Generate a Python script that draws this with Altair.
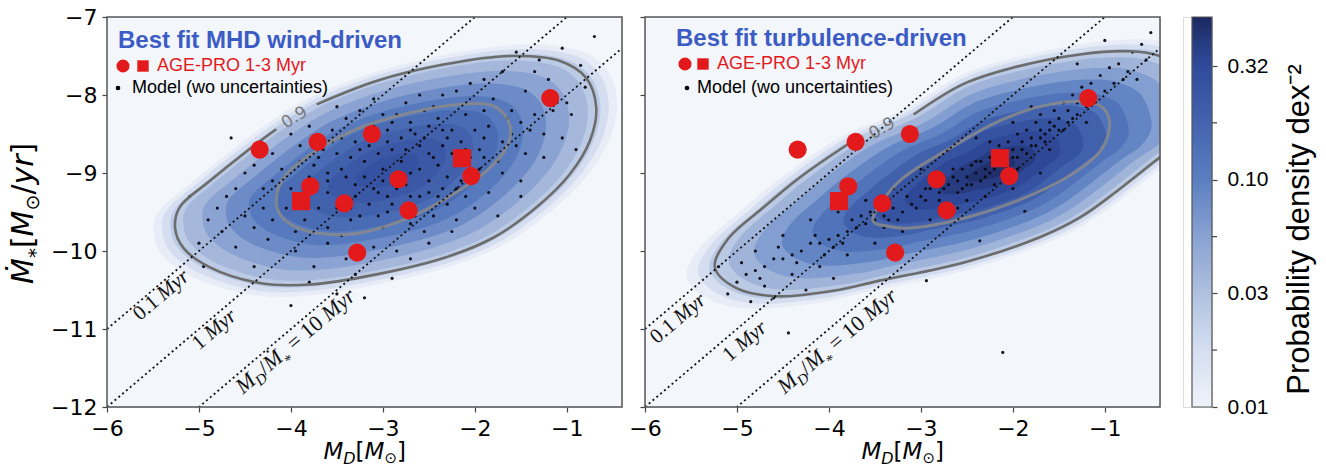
import math
import altair as alt
import pandas as pd

# ---------------- data ----------------
X_DOMAIN = [-6.0, -0.4]
Y_DOMAIN = [-12.0, -7.0]
PW, PH = 515, 390

# AGE-PRO 1-3 Myr observations (log M_D, log Mdot)
obs_circle_md = [-4.34, -3.71, -3.12, -1.18, -3.79, -3.42, -2.83, -2.72, -2.04, -3.28]
obs_circle_mdot = [-8.70, -8.60, -8.50, -8.04, -9.17, -9.39, -9.08, -9.48, -9.04, -10.02]
obs_square_md = [-3.89, -2.14]
obs_square_mdot = [-9.36, -8.81]

# depletion-time reference lines, log10(t / yr)
tdep_log_yr = [5, 6, 7]

# model points (wo uncertainties), MHD wind-driven
mhd_model = [
    (-1.55, -7.45), (-1.30, -7.55), (-1.05, -7.40), (-0.85, -7.62), (-1.70, -7.70), (-1.20, -7.80), (-2.05, -7.85), (-0.70, -7.25),
    (-2.6, -8.0), (-2.2, -7.95), (-1.8, -8.05), (-1.45, -7.95), (-1.0, -8.1), (-3.1, -8.05), (-1.6, -8.2),
    (-3.4, -8.3), (-3.0, -8.25), (-2.7, -8.35), (-2.4, -8.3), (-2.1, -8.25), (-1.85, -8.4), (-1.5, -8.35), (-1.25, -8.5), (-3.8, -8.4), (-2.95, -8.45), (-2.25, -8.45),
    (-4.2, -8.75), (-3.9, -8.65), (-3.55, -8.6), (-3.25, -8.7), (-2.95, -8.6), (-2.75, -8.7), (-2.55, -8.55), (-2.35, -8.65), (-2.15, -8.6), (-1.95, -8.7), (-1.7, -8.6), (-1.45, -8.75), (-2.65, -8.5), (-3.1, -8.55), (-2.45, -8.8),
    (-4.5, -9.0), (-4.1, -8.95), (-3.75, -8.9), (-3.45, -8.95), (-3.2, -8.85), (-3.0, -8.95), (-2.8, -8.85), (-2.6, -8.95), (-2.4, -8.9), (-2.2, -8.85), (-1.95, -8.95), (-1.7, -9.0), (-3.35, -8.8), (-2.9, -9.05), (-2.5, -9.1), (-3.6, -9.1),
    (-4.7, -9.3), (-4.3, -9.2), (-4.0, -9.2), (-3.6, -9.25), (-3.3, -9.15), (-3.05, -9.25), (-2.85, -9.2), (-2.6, -9.3), (-2.35, -9.2), (-2.1, -9.3), (-1.85, -9.25), (-3.5, -9.45), (-3.15, -9.4), (-2.95, -9.5),
    (-4.9, -9.6), (-4.5, -9.55), (-4.2, -9.6), (-3.85, -9.6), (-3.6, -9.7), (-3.35, -9.6), (-3.0, -9.7), (-2.7, -9.65), (-2.45, -9.55), (-2.2, -9.6), (-4.05, -9.45),
    (-4.6, -9.95), (-4.25, -9.85), (-3.95, -10.0), (-3.6, -9.9), (-3.4, -10.1), (-3.1, -9.95), (-2.85, -10.0), (-2.5, -9.9), (-4.4, -10.2), (-3.75, -10.2),
    (-3.5, -10.55), (-4.0, -10.7), (-3.2, -10.6), (-4.95, -10.2), (-5.1, -9.3), (-4.65, -8.55), (-0.8, -7.9), (-2.9, -10.35),
    (-3.05, -8.75), (-2.7, -9.0), (-2.3, -9.05), (-3.4, -9.05), (-2.6, -8.65), (-2.0, -8.45), (-3.7, -8.8), (-2.15, -9.1), (-3.25, -9.55), (-2.75, -9.4), (-1.6, -8.5), (-1.35, -8.25), (-4.3, -9.45), (-2.45, -8.15), (-2.85, -8.25), (-3.55, -8.45), (-1.75, -8.85),
    (-3.15, -8.65), (-2.9, -8.7), (-2.5, -8.75), (-2.25, -8.75), (-2.05, -8.8), (-3.3, -9.3), (-3.0, -9.1), (-2.75, -9.15), (-2.5, -9.25), (-2.3, -9.4), (-3.8, -9.05), (-3.65, -8.7), (-3.45, -8.55), (-2.8, -8.55), (-2.35, -8.45), (-1.9, -8.55), (-2.65, -9.55), (-2.95, -9.3), (-3.2, -9.05), (-1.65, -8.3), (-1.9, -8.2), (-2.55, -8.2), (-3.25, -8.2), (-3.7, -9.45), (-4.4, -8.9), (-4.8, -9.45), (-2.0, -9.45), (-1.5, -9.1), (-1.25, -8.8), (-1.05, -8.55), (-0.95, -8.25),
    (-3.5, -8.75), (-3.3, -8.6), (-3.1, -8.4), (-2.9, -8.35), (-2.7, -8.45), (-2.5, -8.4), (-2.3, -8.55), (-2.1, -8.7), (-1.9, -8.8), (-3.35, -9.45), (-3.1, -9.2), (-2.9, -9.4), (-2.7, -9.3), (-2.4, -9.3), (-2.2, -9.2), (-3.6, -9.0), (-3.9, -8.85), (-4.2, -9.1), (-4.6, -9.2), (-3.95, -9.75), (-3.45, -9.8), (-3.05, -9.55), (-2.55, -9.75), (-2.05, -9.05), (-1.55, -8.65), (-1.4, -8.45), (-1.15, -8.2), (-1.35, -7.7), (-1.9, -7.8), (-2.35, -8.0), (-2.75, -8.1), (-3.5, -8.15), (-4.0, -8.5), (-4.4, -9.7), (-4.75, -9.75), (-5.0, -9.9), (-3.8, -10.4), (-3.3, -10.3), (-2.7, -10.1), (-2.25, -9.75), (-1.75, -9.55), (-1.5, -9.3), (-0.9, -8.7),
]

# model points (wo uncertainties), turbulence-driven
turb_model = [
    (-3.0, -9.3), (-2.9, -9.2), (-2.8, -9.25), (-2.7, -9.15), (-2.6, -9.1), (-2.5, -9.05), (-2.4, -9.0), (-2.3, -8.95), (-2.2, -8.85), (-2.1, -8.8), (-2.0, -8.7), (-1.9, -8.6), (-1.8, -8.55), (-1.7, -8.45), (-1.6, -8.35), (-1.5, -8.3), (-1.4, -8.2), (-1.3, -8.1),
    (-2.95, -9.35), (-2.75, -9.05), (-2.55, -9.2), (-2.45, -8.9), (-2.35, -9.1), (-2.25, -8.8), (-2.05, -8.95), (-1.95, -8.5), (-1.85, -8.75), (-1.75, -8.35), (-1.65, -8.6), (-1.55, -8.2), (-1.45, -8.45), (-1.35, -8.0), (-2.65, -8.95), (-2.15, -8.65), (-1.25, -7.9), (-1.15, -7.85), (-1.05, -7.75), (-0.95, -7.65), (-0.85, -7.6), (-0.7, -7.45), (-0.6, -7.35), (-1.1, -8.1), (-0.9, -7.85), (-0.75, -7.7),
    (-3.1, -9.4), (-3.2, -9.5), (-3.3, -9.45), (-3.4, -9.55), (-3.5, -9.6), (-3.6, -9.65), (-3.7, -9.7), (-3.8, -9.75), (-3.9, -9.8), (-4.0, -9.85), (-4.1, -9.9), (-4.2, -9.9), (-4.3, -10.0), (-4.4, -10.05), (-4.5, -10.1), (-4.6, -10.1), (-4.7, -10.2), (-4.8, -10.25), (-4.9, -10.3), (-5.0, -10.4),
    (-3.3, -9.2), (-3.6, -9.35), (-3.9, -9.5), (-4.2, -9.6), (-4.5, -9.8), (-4.8, -10.0), (-3.5, -9.9), (-3.8, -10.05), (-4.1, -10.2), (-4.4, -10.3), (-4.7, -10.45), (-5.1, -10.55), (-3.2, -9.75), (-2.9, -9.6), (-2.6, -9.45), (-2.3, -9.3), (-2.0, -9.2), (-1.7, -9.0), (-2.7, -8.7), (-2.4, -8.55), (-2.0, -8.35), (-1.8, -8.15), (-3.0, -8.95), (-4.6, -10.6), (-3.95, -10.35), (-4.25, -10.5), (-5.2, -10.2), (-4.85, -10.65),
    (-0.5, -7.2), (-0.65, -7.8), (-1.0, -7.3), (-1.3, -7.6), (-0.55, -7.55),
    (-4.44, -11.05), (-2.11, -11.30), (-2.94, -10.38), (-2.36, -9.87), (-1.87, -9.49),
    (-2.85, -9.1), (-2.55, -8.95), (-2.25, -9.0), (-1.95, -8.8), (-1.65, -8.5), (-1.35, -8.3), (-2.45, -9.15), (-2.15, -8.75), (-1.85, -8.45), (-1.55, -8.4), (-2.8, -9.35), (-2.6, -9.25), (-2.35, -8.85), (-2.05, -8.6), (-1.75, -8.65), (-1.45, -8.1), (-3.05, -9.45), (-3.25, -9.6), (-3.45, -9.4), (-3.65, -9.55),
    (-2.95, -9.2), (-2.75, -9.2), (-2.65, -9.05), (-2.5, -9.15), (-2.4, -8.85), (-2.3, -9.05), (-2.2, -8.95), (-2.1, -8.9), (-2.0, -8.8), (-1.9, -8.7), (-1.8, -8.65), (-1.7, -8.55), (-1.6, -8.45), (-1.5, -8.45), (-1.4, -8.35), (-1.3, -8.25), (-1.2, -8.15), (-1.0, -7.95), (-0.8, -7.8), (-3.15, -9.3), (-3.35, -9.6), (-3.55, -9.5), (-3.75, -9.6), (-3.95, -9.95), (-4.15, -9.8), (-4.35, -10.15), (-4.55, -9.95), (-4.75, -10.35), (-4.95, -10.15), (-3.85, -9.9), (-4.05, -10.05), (-3.4, -9.7), (-2.75, -9.5), (-2.5, -9.35), (-2.2, -9.15), (-1.95, -8.95), (-1.6, -8.7), (-1.2, -8.35), (-1.7, -8.25), (-2.25, -8.6),
]

# 0.9 contours (open at the label gap) and 0.5 contours (closed)
mhd_c90 = [(-3.72, -8.12), (-3.07, -7.82), (-2.34, -7.61), (-1.62, -7.50), (-1.08, -7.56), (-0.79, -7.78), (-0.68, -8.16),
           (-0.75, -8.59), (-0.97, -9.02), (-1.33, -9.44), (-1.80, -9.83), (-2.34, -10.09), (-3.07, -10.30), (-3.79, -10.43),
           (-4.34, -10.41), (-4.88, -10.21), (-5.17, -9.96), (-5.26, -9.70), (-5.21, -9.44), (-4.88, -9.10), (-4.48, -8.72), (-4.16, -8.44)]
mhd_c50 = [(-4.16, -9.36), (-4.05, -9.02), (-3.68, -8.68), (-3.25, -8.42), (-2.71, -8.23), (-2.16, -8.12), (-1.80, -8.14), (-1.62, -8.38),
           (-1.66, -8.68), (-1.87, -8.97), (-2.23, -9.27), (-2.71, -9.57), (-3.25, -9.77), (-3.72, -9.77), (-4.05, -9.62)]
turb_c90 = [(-3.08, -8.25), (-2.54, -7.86), (-2.0, -7.65), (-1.27, -7.48), (-0.73, -7.44), (-0.40, -7.50), (-0.1, -7.7), (0.05, -8.2),
            (-0.1, -8.55), (-0.40, -8.80), (-0.91, -9.27), (-1.27, -9.57), (-1.7, -9.82), (-2.54, -10.15), (-3.45, -10.38), (-3.9, -10.5),
            (-4.57, -10.58), (-5.0, -10.48), (-5.24, -10.21), (-5.1, -9.85), (-4.72, -9.45), (-4.32, -9.06), (-3.74, -8.59)]
turb_c50 = [(-3.52, -9.57), (-3.23, -9.10), (-2.68, -8.68), (-2.14, -8.33), (-1.60, -8.12), (-1.13, -8.10), (-0.95, -8.33),
            (-1.05, -8.72), (-1.42, -9.06), (-1.96, -9.36), (-2.50, -9.57), (-3.05, -9.70), (-3.37, -9.68)]

# probability-density shading: centre, relative size of each shade (vs 0.9 contour), density of that shade
mhd_center = (-2.95, -8.97)
mhd_band_scale = [1.1, 1.06, 1.02, 0.96, 0.87, 0.76, 0.65, 0.53, 0.41, 0.28, 0.15]
mhd_band_density = [0.012, 0.018, 0.026, 0.037, 0.055, 0.08, 0.11, 0.15, 0.19, 0.23, 0.27]
turb_center = (-2.2, -8.95)
turb_band_scale = [1.1, 1.06, 1.02, 0.95, 0.86, 0.76, 0.65, 0.54, 0.43, 0.32, 0.2, 0.1]
turb_band_density = [0.012, 0.018, 0.027, 0.04, 0.06, 0.09, 0.13, 0.19, 0.26, 0.33, 0.4, 0.47]

# colour bar
CB_MIN, CB_MAX = 0.01, 0.52
cbar_ticks = [0.01, 0.0316, 0.1, 0.316]
cbar_minor = [0.0178, 0.0562, 0.178]
cmap_vals = [0.01, 0.018, 0.03, 0.055, 0.1, 0.18, 0.32, 0.52]
cmap_cols = ["#eff3fa", "#d4def0", "#b3c3e1", "#8aa3d2", "#5b7fc1", "#4363ae", "#2f4a9b", "#1c2960"]

# ---------------- styling ----------------
BG = "#f3f6fb"
RED = "#e31a1c"
TITLE_BLUE = "#3b5cc4"
TICK_FONT = "DejaVu Sans"
FRAME = "#555555"

xs = alt.Scale(domain=X_DOMAIN, nice=False, zero=False)
ys = alt.Scale(domain=Y_DOMAIN, nice=False, zero=False)
cscale = alt.Scale(type="log", domain=cmap_vals, range=cmap_cols, interpolate="rgb")

ax_common = dict(title=None, labelFont=TICK_FONT, labelFontSize=22, labelColor="black", tickSize=5,
                 tickColor="#444", tickWidth=1.2, domain=False, grid=False, labelFlush=False, labelOverlap=False)
xaxis = alt.Axis(values=[-6, -5, -4, -3, -2, -1], format="d", labelPadding=6, **ax_common)
yaxis_l = alt.Axis(values=[-12, -11, -10, -9, -8, -7], format="d", labelPadding=5, **ax_common)
yaxis_r = alt.Axis(values=[-12, -11, -10, -9, -8, -7], labels=False, **ax_common)

one = pd.DataFrame({"k": [0]})


def txt(text, x, y, size, color="black", font="Liberation Sans", weight="normal", style="normal",
        align="left", baseline="middle", angle=0, dx=0, dy=0, opacity=1.0):
    return alt.Chart(one).mark_text(text=text, font=font, fontSize=size, fontWeight=weight, fontStyle=style,
                                    color=color, align=align, baseline=baseline, angle=angle, dx=dx, dy=dy,
                                    opacity=opacity).encode(x=alt.value(x), y=alt.value(y))


def panel(model, c90, c50, center, bscale, bdens, title, title_pos, leg, line_labels, c90_label, yaxis, y_title):
    X = lambda f: alt.X(f, type="quantitative", scale=xs, axis=xaxis)
    Y = lambda f: alt.Y(f, type="quantitative", scale=ys, axis=yaxis)
    layers = [alt.Chart(one).mark_rect(fill=BG, strokeWidth=0).encode(
        x=alt.value(0), x2=alt.value(PW), y=alt.value(0), y2=alt.value(PH))]
    cx, cy = center
    # density shading
    for f, d in zip(bscale, bdens):
        df = pd.DataFrame({"x": [cx + f * (a - cx) for a, _ in c90],
                           "y": [cy + f * (b - cy) for _, b in c90],
                           "i": list(range(len(c90))), "d": d})
        layers.append(alt.Chart(df).mark_line(interpolate="cardinal-closed", strokeWidth=0, strokeOpacity=0, clip=True)
                      .encode(x=X("x"), y=Y("y"), order=alt.Order("i:Q"),
                              fill=alt.Fill("d:Q", scale=cscale, legend=None)))
    # model points
    mdf = pd.DataFrame(model, columns=["x", "y"])
    layers.append(alt.Chart(mdf).mark_circle(size=10, color="#0a0a14", opacity=0.95, clip=True).encode(x=X("x"), y=Y("y")))
    # contours
    c90df = pd.DataFrame({"x": [a for a, _ in c90], "y": [b for _, b in c90], "i": list(range(len(c90)))})
    layers.append(alt.Chart(c90df).mark_line(interpolate="catmull-rom", color="#6c6c6c", strokeWidth=2.6, clip=True)
                  .encode(x=X("x"), y=Y("y"), order=alt.Order("i:Q")))
    c50df = pd.DataFrame({"x": [a for a, _ in c50], "y": [b for _, b in c50], "i": list(range(len(c50)))})
    layers.append(alt.Chart(c50df).mark_line(interpolate="cardinal-closed", color="#8a8a8a", strokeWidth=3, opacity=0.85, clip=True)
                  .encode(x=X("x"), y=Y("y"), order=alt.Order("i:Q")))
    # depletion-time lines
    ldf = pd.DataFrame([{"t": t, "x": xe, "y": xe - t} for t in tdep_log_yr for xe in X_DOMAIN])
    layers.append(alt.Chart(ldf).mark_line(color="#111", strokeWidth=1.8, strokeDash=[2, 3], clip=True)
                  .encode(x=X("x"), y=Y("y"), detail="t:N"))
    # rotated labels along depletion lines
    ang = 360 - math.degrees(math.atan((PH / 5.0) / (PW / 5.6)))
    for pieces, (ax_, ay_) in line_labels:
        adf = pd.DataFrame({"x": [ax_], "y": [ay_]})
        for text, dxp, dyp, size, style in pieces:
            layers.append(alt.Chart(adf).mark_text(text=text, font="Liberation Serif", fontSize=size, fontStyle=style,
                                                   color="#111", align="left", baseline="alphabetic", angle=ang,
                                                   dx=dxp, dy=dyp).encode(x=X("x"), y=Y("y")))
    # 0.9 contour label
    (lx, ly), lang = c90_label
    layers.append(alt.Chart(pd.DataFrame({"x": [lx], "y": [ly]})).mark_text(
        text="0.9", font=TICK_FONT, fontSize=17, color="#7a7a7a", angle=lang, align="center", baseline="middle")
        .encode(x=X("x"), y=Y("y")))
    # observations
    odf = pd.DataFrame({"x": obs_circle_md, "y": obs_circle_mdot})
    layers.append(alt.Chart(odf).mark_circle(size=330, color=RED, opacity=1).encode(x=X("x"), y=Y("y")))
    sdf = pd.DataFrame({"x": obs_square_md, "y": obs_square_mdot})
    layers.append(alt.Chart(sdf).mark_square(size=330, color=RED, opacity=1).encode(x=X("x"), y=Y("y")))
    # in-panel title and legend
    tx, ty = title_pos
    layers.append(txt(title, tx, ty, 24, color=TITLE_BLUE, weight="bold"))
    (c_x, c_y), (s_x, s_y), (t1x, t1y), (d_x, d_y), (t2x, t2y) = leg
    layers.append(alt.Chart(one).mark_circle(size=170, color=RED, opacity=1).encode(x=alt.value(c_x), y=alt.value(c_y)))
    layers.append(alt.Chart(one).mark_square(size=130, color=RED, opacity=1).encode(x=alt.value(s_x), y=alt.value(s_y)))
    layers.append(txt("AGE-PRO 1-3 Myr", t1x, t1y, 18, color=RED))
    layers.append(alt.Chart(one).mark_circle(size=22, color="black", opacity=1).encode(x=alt.value(d_x), y=alt.value(d_y)))
    layers.append(txt("Model (wo uncertainties)", t2x, t2y, 18))
    # frame
    layers.append(alt.Chart(one).mark_rect(fillOpacity=0, stroke=FRAME, strokeWidth=1.5).encode(
        x=alt.value(0), x2=alt.value(PW), y=alt.value(0), y2=alt.value(PH)))
    # x-axis title  M_D [M_sun]
    x0, yb = PW / 2 - 41, 442
    for text, dxp, dyp, size, style in [("M", 0, 0, 23, "italic"), ("D", 19.8, 5, 16, "italic"), ("[", 32.1, 0, 23, "normal"),
                                        ("M", 41.1, 0, 23, "italic"), ("⊙", 60.9, 4, 15, "normal"), ("]", 73.5, 0, 23, "normal")]:
        layers.append(txt(text, x0, yb, size, font=TICK_FONT, style=style, baseline="alphabetic", dx=dxp, dy=dyp))
    # y-axis title  Mdot_* [M_sun / yr]
    if y_title:
        xb, y0 = -74, 267
        for text, dxp, dyp, size, style in [("Ṁ", 0, 0, 30, "italic"), ("*", 25.9, 9, 20, "normal"), ("[", 35.9, 0, 30, "normal"),
                                            ("M", 47.6, 0, 30, "italic"), ("⊙", 73.5, 6, 19, "normal"), ("/", 89.4, 0, 30, "normal"),
                                            ("yr", 99.5, 0, 30, "italic"), ("]", 129.6, 0, 30, "normal")]:
            layers.append(txt(text, xb, y0, size, font=TICK_FONT, style=style, baseline="alphabetic", angle=270, dx=dxp, dy=dyp))
    return alt.layer(*layers).properties(width=PW, height=PH)


lab01 = [("0.1", 0, 0, 21, "normal"), ("Myr", 31, 0, 21, "italic")]
lab1 = [("1", 0, 0, 21, "normal"), ("Myr", 15.8, 0, 21, "italic")]
lab10 = [("M", 0, 0, 22, "italic"), ("D", 18.3, 5, 15, "italic"), ("/", 29.5, 0, 22, "normal"), ("Ṁ", 35.6, 0, 22, "italic"),
         ("*", 54.0, 8, 15, "normal"), ("= 10", 67.0, 0, 22, "normal"), ("Myr", 112.4, 0, 22, "italic")]

left = panel(mhd_model, mhd_c90, mhd_c50, mhd_center, mhd_band_scale, mhd_band_density,
             "Best fit MHD wind-driven", (11, 24),
             ((16, 49), (36, 49), (50, 49), (11, 71), (25, 71)),
             [(lab01, (-5.64, -10.9)), (lab1, (-5.0, -11.28)), (lab10, (-4.52, -11.84))],
             ((-3.96, -8.29), 328), yaxis_l, True)
right = panel(turb_model, turb_c90, turb_c50, turb_center, turb_band_scale, turb_band_density,
              "Best fit turbulence-driven", (31, 22),
              ((40, 47), (58, 47), (72, 47), (42, 71), (52, 71)),
              [(lab01, (-5.87, -11.2)), (lab1, (-5.08, -11.43)), (lab10, (-4.48, -11.84))],
              ((-3.42, -8.43), 330), yaxis_r, False)

# ---------------- colour bar ----------------
CBW, CB_OFF = 20, 9
lo, hi = math.log10(CB_MIN), math.log10(CB_MAX)
stops = [alt.GradientStop(color=c, offset=(math.log10(v) - lo) / (hi - lo)) for v, c in zip(cmap_vals, cmap_cols)]
grad = alt.LinearGradient(gradient="linear", stops=stops, x1=0, x2=0, y1=1, y2=0)
cb_scale = alt.Scale(type="log", domain=[CB_MIN, CB_MAX], nice=False)
cb_axis = alt.Axis(orient="right", values=cbar_ticks, format=".2f", title="Probability density dex⁻²",
                   titleAngle=270, titleBaseline="top", titleFont="Liberation Sans", titleFontSize=31,
                   titleFontWeight="normal", titleColor="black", titlePadding=17, titleY=PH / 2 + 17,
                   labelFont="Liberation Sans", labelFontSize=21, labelColor="black", labelPadding=10,
                   tickSize=5, tickColor="#444", tickWidth=1.2, domain=False, grid=False)
cb_rect = alt.Chart(one).mark_rect(fill=grad, stroke=FRAME, strokeWidth=1.2).encode(
    x=alt.value(CB_OFF), x2=alt.value(CB_OFF + CBW), y=alt.value(0), y2=alt.value(PH))
cb_ax = alt.Chart(pd.DataFrame({"v": [CB_MIN, CB_MAX]})).mark_point(opacity=0).encode(
    y=alt.Y("v:Q", scale=cb_scale, axis=cb_axis), x=alt.value(CB_OFF + CBW / 2))
cb_min = alt.Chart(pd.DataFrame({"v": cbar_minor})).mark_rule(color="#444", strokeWidth=1.2).encode(
    y=alt.Y("v:Q", scale=cb_scale, axis=cb_axis), x=alt.value(CB_OFF + CBW), x2=alt.value(CB_OFF + CBW + 5))
cbar = alt.layer(cb_rect, cb_ax, cb_min).properties(width=CB_OFF + CBW, height=PH)

chart = alt.hconcat(left, right, cbar, spacing=23, bounds="flush") \
    .properties(padding={"left": 8, "top": 5, "right": 5, "bottom": 5}) \
    .configure_view(strokeWidth=0, stroke="transparent", fill="transparent") \
    .configure(background="white")

chart.save("out.html", embed_options={"renderer": "svg", "actions": False})
